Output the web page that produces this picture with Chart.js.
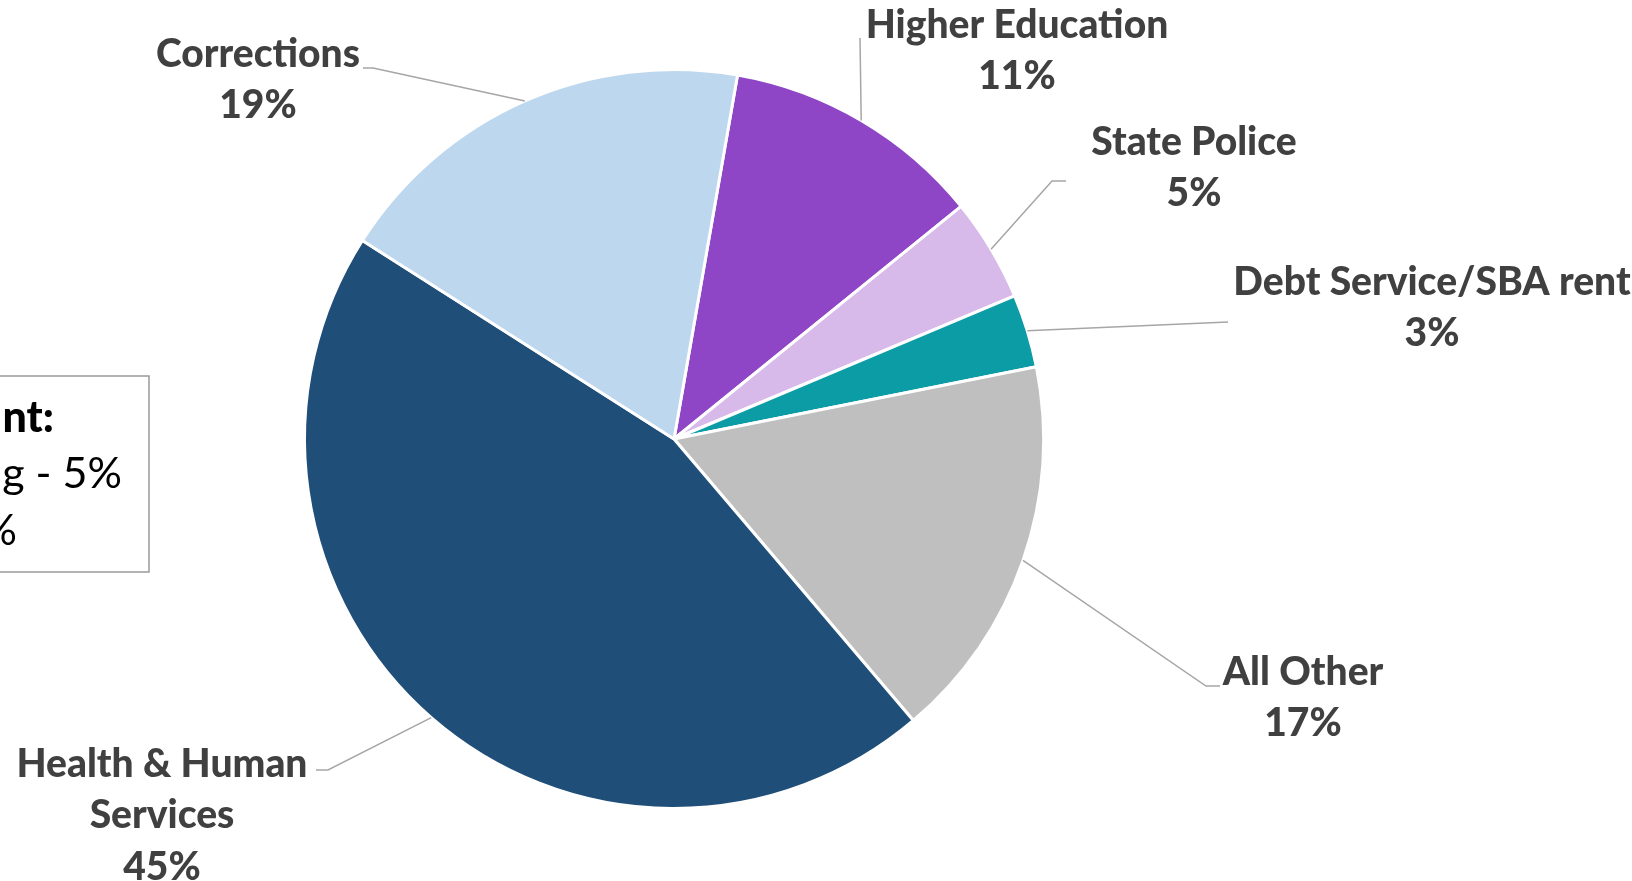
<!DOCTYPE html>
<html>
<head>
<meta charset="utf-8">
<script src="https://cdn.jsdelivr.net/npm/chart.js@4"></script>
<style>
  body { margin: 0; background: #fff; }
  #wrap { width: 1632px; height: 881px; position: relative; }
</style>
</head>
<body>
<div id="wrap"><canvas id="pie"></canvas></div>
<script>
// data
const categories = [['Higher Education'], ['State Police'], ['Debt Service/SBA rent'], ['All Other'], ['Health & Human', 'Services'], ['Corrections']];
const shares = [11.4, 4.5, 3.2, 16.9, 45.2, 18.7];
const sliceColors = ['#8e46c6', '#d7b9ea', '#0b9ca6', '#bfbfbf', '#1f4e78', '#bdd7ee'];
const boxLines = ['nt:', 'ng - 5%', '%'];

// where excel put the labels (leader bend points + text centre)
const labelLayout = [
    { pts: [[860, 38]], x: 1017, y: 25 },
    { pts: [[1052, 181], [1066, 181]], x: 1194, y: 142 },
    { pts: [[1228, 322]], x: 1432, y: 282 },
    { pts: [[1206, 686], [1220, 686]], x: 1303, y: 672 },
    { pts: [[328, 770], [316, 770]], x: 162, y: 764 },
    { pts: [[373, 68], [363, 68]], x: 258, y: 54 }
];

const total = shares.reduce((a, b) => a + b, 0);

const calloutPlugin = {
    id: 'callouts',
    afterDraw(chart) {
        const { ctx } = chart;
        const arcs = chart.getDatasetMeta(0).data;
        ctx.save();
        arcs.forEach((arc, i) => {
            const { x, y, startAngle, endAngle, outerRadius } = arc.getProps(['x', 'y', 'startAngle', 'endAngle', 'outerRadius'], true);
            const mid = (startAngle + endAngle) / 2;
            const lay = labelLayout[i];
            ctx.strokeStyle = '#a6a6a6';
            ctx.lineWidth = 1.5;
            ctx.beginPath();
            ctx.moveTo(x + Math.cos(mid) * outerRadius, y + Math.sin(mid) * outerRadius);
            lay.pts.forEach(p => ctx.lineTo(p[0], p[1]));
            ctx.stroke();

            const lines = categories[i].concat([Math.round(shares[i] / total * 100) + '%']);
            ctx.fillStyle = '#404040';
            ctx.font = '900 39px Lato';
            ctx.textAlign = 'center';
            ctx.textBaseline = 'middle';
            lines.forEach((t, k) => ctx.fillText(t, lay.x, lay.y + k * 51.5));
        });

        // text box on the left, cut off by the page edge
        ctx.strokeStyle = '#9a9a9a';
        ctx.lineWidth = 1.5;
        ctx.strokeRect(-10, 376, 159, 196);
        ctx.fillStyle = '#000';
        ctx.textAlign = 'right';
        ctx.textBaseline = 'alphabetic';
        ctx.font = '900 43px Lato';
        ctx.fillText(boxLines[0], 54, 432);
        ctx.font = '43px Lato';
        ctx.fillText(boxLines[1], 122, 488);
        ctx.fillText(boxLines[2], 17, 545);
        ctx.restore();
    }
};

new Chart(document.getElementById('pie'), {
    type: 'pie',
    data: {
        labels: categories.map(c => c.join(' ')),
        datasets: [{
            data: shares,
            backgroundColor: sliceColors,
            borderColor: '#ffffff',
            borderWidth: 3
        }]
    },
    options: {
        responsive: true,
        maintainAspectRatio: false,
        animation: false,
        events: [],
        rotation: 9.9,
        layout: { padding: { left: 303, right: 587, top: 68, bottom: 71 } },
        plugins: {
            legend: { display: false },
            tooltip: { enabled: false }
        }
    },
    plugins: [calloutPlugin]
});
</script>
</body>
</html>
